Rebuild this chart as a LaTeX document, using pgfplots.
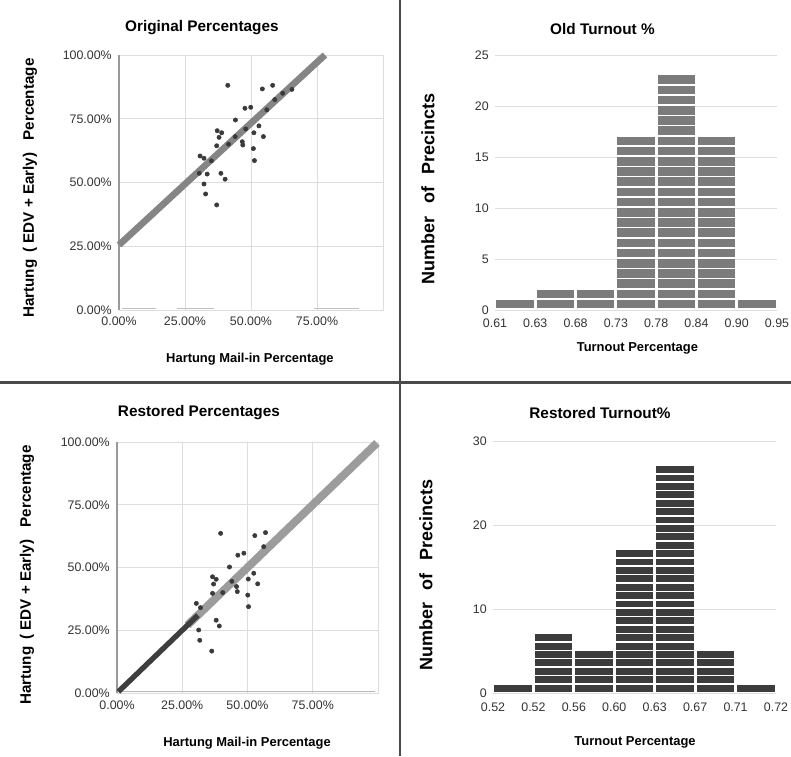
\documentclass[border=0pt]{standalone}
\usepackage{pgfplots}
\pgfplotsset{compat=1.18}
\usepackage{fontspec}
\setmainfont{Liberation Sans}
\definecolor{gridc}{HTML}{DDDDDD}
\definecolor{tickc}{HTML}{333333}
\definecolor{divc}{HTML}{4A4A4A}
\definecolor{bandc}{HTML}{858585}
\definecolor{bandl}{HTML}{9C9C9C}
\definecolor{bandd}{HTML}{3E3E3E}
\definecolor{ptc}{HTML}{3A3A3A}
\definecolor{histA}{HTML}{7B7B7B}
\definecolor{histB}{HTML}{3C3C3C}
\definecolor{spine}{HTML}{9A9A9A}
\pgfplotsset{
  panel/.style={
    scale only axis,
    axis line style={draw=gridc},
    major tick length=0pt,
    tick style={draw=none},
    major grid style={draw=gridc, line width=0.6pt},
    ticklabel style={font=\fontsize{9.3}{11}\selectfont, text=tickc},
    title style={font=\fontsize{11.5}{13}\selectfont\bfseries, anchor=center},
    xlabel style={font=\fontsize{9.7}{11}\selectfont\bfseries, anchor=center},
    ylabel style={anchor=center},
    xticklabel style={anchor=north, inner sep=0pt},
    yticklabel style={anchor=east, inner sep=0pt},
    clip=false,
  },
  scat/.style={
    panel,
    xmin=0, xmax=100, ymin=0, ymax=100,
    grid=major,
    xtick={0,25,50,75,100},
    xticklabels={0.00\%,25.00\%,50.00\%,75.00\%,{}},
    ytick={0,25,50,75,100},
    yticklabels={0.00\%,25.00\%,50.00\%,75.00\%,100.00\%},
    ylabel={Hartung\hspace{0.45em}( EDV + Early)\hspace{0.8em}Percentage},
    xlabel={Hartung Mail-in Percentage},
    ylabel style={font=\fontsize{11.4}{13}\selectfont\bfseries},
    extra x ticks={0},
    extra x tick labels={},
    extra x tick style={major grid style={draw=spine, line width=0.9pt}},
  },
  hist/.style={
    panel,
    xmin=0, xmax=7,
    axis line style={draw=none},
    ymajorgrids,
    xtick={0,1,2,3,4,5,6,7},
    xlabel={Turnout Percentage},
    ylabel={Number\hspace{0.7em}of\hspace{0.7em}Precincts},
    ylabel style={font=\fontsize{13.5}{15}\selectfont\bfseries},
  },
}
\pgfplotstableread{
x y
41.2 88.1
54.3 86.7
58.2 88.1
47.7 79.1
49.9 79.5
44.1 74.5
37.2 70.3
38.9 69.5
37.9 67.7
37.0 64.4
30.7 60.4
32.2 59.5
53.0 72.2
51.1 69.5
54.7 68.0
46.7 66.0
46.9 64.7
50.9 63.3
51.3 58.6
38.6 53.6
40.2 51.3
32.2 49.4
32.8 45.5
37.0 41.2
30.4 53.6
33.4 53.3
35.0 58.5
41.5 65.0
44.0 68.0
48.0 71.0
56.0 78.5
59.0 82.5
62.0 85.0
65.5 86.5
}\origpts
\pgfplotstableread{
x y
39.7 63.6
52.8 62.7
56.9 63.9
46.3 54.9
48.6 55.7
43.1 50.2
36.6 46.3
38.0 45.3
37.0 43.4
52.4 47.7
50.3 45.4
53.9 43.5
50.1 39.0
50.4 34.4
45.8 42.4
46.1 40.4
38.0 29.0
39.2 26.7
31.7 21.0
36.3 16.7
30.4 35.7
31.3 25.1
36.6 39.7
56.2 58.3
32.0 34.0
40.5 40.0
44.0 44.5
}\restpts
\begin{document}
\begin{tikzpicture}
\path[use as bounding box] (0,0) rectangle (593.25pt,567pt);
\draw[color=divc, line width=1.5pt] (300pt,0) -- (300pt,567pt);
\draw[color=divc, line width=2.25pt] (0,279.75pt) -- (593.25pt,279.75pt);

% Top-left: Original Percentages
\begin{axis}[scat,
  at={(89.25pt,334.5pt)}, anchor=south west,
  width=198pt, height=191.25pt,
  title={Original Percentages},
  title style={at={(axis description cs:0.314,1)}, yshift=14.25pt},
  xlabel style={at={(axis description cs:0.496,0)}, yshift=-37pt},
  ylabel style={at={(axis description cs:-0.337,0.478)}},
  xticklabel style={yshift=-5pt},
  yticklabel style={xshift=-5.25pt},
]
\addplot[draw=gridc!70!gray, line width=1pt, unbounded coords=jump] coordinates {(1,0.5)(14,0.5)(18,nan)(22,0.5)(36,0.5)(50,nan)(74,0.5)(91,0.5)};
\addplot[draw=bandc, line width=5pt] coordinates {(0,25.5)(78,100)};
\addplot[only marks, mark=*, mark size=1.6pt, draw=ptc, fill=ptc] table {\origpts};
\end{axis}

% Bottom-left: Restored Percentages
\begin{axis}[scat,
  at={(87.75pt,47.25pt)}, anchor=south west,
  width=195.75pt, height=188.25pt,
  title={Restored Percentages},
  title style={at={(axis description cs:0.314,1)}, yshift=15.75pt},
  xlabel style={at={(axis description cs:0.498,0)}, yshift=-37.5pt},
  ylabel style={at={(axis description cs:-0.345,0.47)}},
  xticklabel style={yshift=-6pt},
  yticklabel style={xshift=-5.25pt},
]
\addplot[draw=gridc!60!gray, line width=1.3pt] coordinates {(1,0.6)(99,0.6)};
\addplot[draw=bandl, line width=6pt] coordinates {(27,27)(99.6,99.6)};
\addplot[draw=bandd, line width=4pt] coordinates {(0.5,0.5)(31,31)};
\addplot[only marks, mark=*, mark size=1.6pt, draw=ptc, fill=ptc] table {\restpts};
\end{axis}

% Top-right: Old Turnout %
\begin{axis}[hist,
  at={(371.25pt,334.5pt)}, anchor=south west,
  width=211.5pt, height=191.25pt,
  ymin=0, ymax=25,
  ytick={0,5,10,15,20,25},
  yticklabels={0,5,10,15,20,25},
  xticklabels={0.61,0.63,0.68,0.73,0.78,0.84,0.90,0.95},
  title={Old Turnout \%},
  title style={at={(axis description cs:0.381,1)}, yshift=13.5pt},
  xlabel style={at={(axis description cs:0.505,0)}, yshift=-29pt},
  ylabel style={at={(axis description cs:-0.2376,0.475)}},
  xticklabel style={yshift=-6.5pt},
  yticklabel style={xshift=-4.5pt},
]
\addplot[ycomb, draw=histA, line width=28.1pt, mark=none,
  dash pattern=on 6.525pt off 1.125pt, dash phase=6.525pt]
  coordinates {(0.5,1)(1.5,2)(2.5,2)(3.5,17)(4.5,23)(5.5,17)(6.5,1)};
\end{axis}

% Bottom-right: Restored Turnout%
\begin{axis}[hist,
  at={(369.75pt,47.25pt)}, anchor=south west,
  width=212.25pt, height=189pt,
  ymin=0, ymax=30,
  ytick={0,10,20,30},
  yticklabels={0,10,20,30},
  xticklabels={0.52,0.52,0.56,0.60,0.63,0.67,0.71,0.72},
  title={Restored Turnout\%},
  title style={at={(axis description cs:0.378,1)}, yshift=15pt},
  xlabel style={at={(axis description cs:0.502,0)}, yshift=-37pt},
  ylabel style={at={(axis description cs:-0.2367,0.468)}},
  xticklabel style={yshift=-7.5pt},
  yticklabel style={xshift=-4.5pt},
]
\addplot[ycomb, draw=histB, line width=28.1pt, mark=none,
  dash pattern=on 5.175pt off 1.125pt, dash phase=5.175pt]
  coordinates {(0.5,1)(1.5,7)(2.5,5)(3.5,17)(4.5,27)(5.5,5)(6.5,1)};
\end{axis}
\end{tikzpicture}
\end{document}
